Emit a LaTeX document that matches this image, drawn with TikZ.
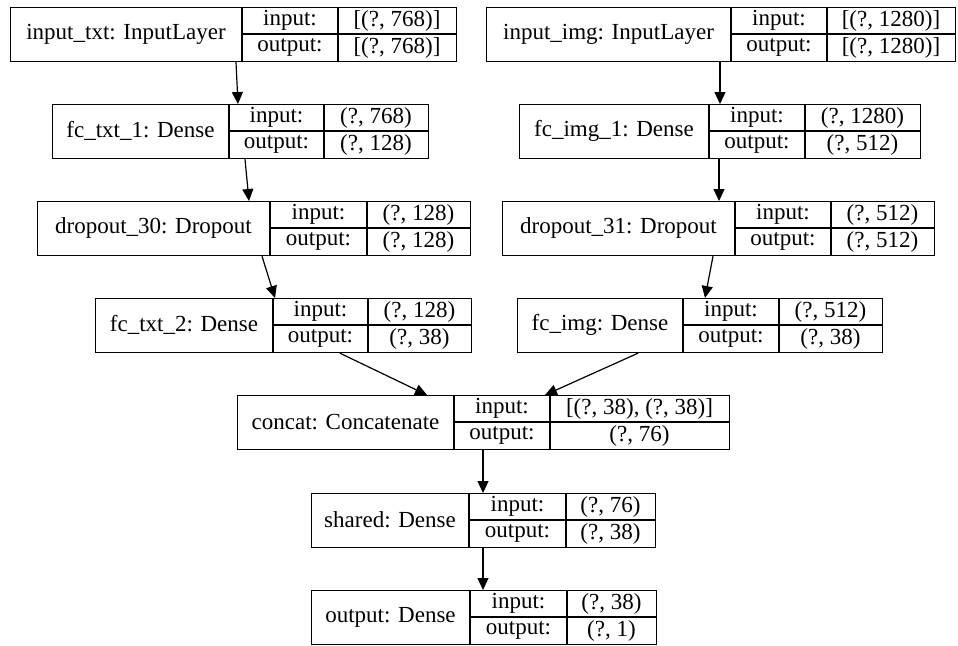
\documentclass[tikz,border=0pt]{standalone}
\usepackage{fontspec}
\setmainfont{Liberation Serif}
\usetikzlibrary{arrows.meta}
\tikzset{
  box/.style={draw, line width=1.2pt, inner sep=0pt, anchor=north west},
  sep/.style={line width=1.2pt},
  lbl/.style={font=\fontsize{23}{26}\selectfont, inner sep=0pt},
  arr/.style={line width=1.2pt, -{Triangle[length=12pt,width=11pt]}},
}
% name, x1, y1, x2, d1, d2, label, in, out
\newcommand\layerbox[9]{%
  \node[box, minimum width={(#4-#2)*1pt}, minimum height=54pt] (#1) at (#2,#3) {};
  \draw[sep] ({#5},{#3}) -- ({#5},{#3+54});
  \draw[sep] ({#6},{#3}) -- ({#6},{#3+54});
  \draw[sep] ({#5},{#3+27}) -- ({#4},{#3+27});
  \node[lbl] at ({(#2+#5)/2},{#3+27}) {#7};
  \node[lbl] at ({(#5+#6)/2},{#3+13.5}) {input:};
  \node[lbl] at ({(#5+#6)/2},{#3+40.5}) {output:};
  \node[lbl] at ({(#6+#4)/2},{#3+13.5}) {#8};
  \node[lbl] at ({(#6+#4)/2},{#3+40.5}) {#9};
}
\begin{document}
\begin{tikzpicture}[x=1pt, y=-1pt]
\useasboundingbox (0,0) rectangle (958,645);
\layerbox{t0}{10}{7}{456}{242}{338}{input\_txt: InputLayer}{[(?, 768)]}{[(?, 768)]}
\layerbox{i0}{486}{7}{955}{731}{827}{input\_img: InputLayer}{[(?, 1280)]}{[(?, 1280)]}
\layerbox{t1}{52}{104}{428}{229}{324}{fc\_txt\_1: Dense}{(?, 768)}{(?, 128)}
\layerbox{i1}{519}{104}{920}{709}{805}{fc\_img\_1: Dense}{(?, 1280)}{(?, 512)}
\layerbox{t2}{37}{201}{470}{270}{367}{dropout\_30: Dropout}{(?, 128)}{(?, 128)}
\layerbox{i2}{502}{201}{934}{735}{831}{dropout\_31: Dropout}{(?, 512)}{(?, 512)}
\layerbox{t3}{95}{298}{471}{273}{368}{fc\_txt\_2: Dense}{(?, 128)}{(?, 38)}
\layerbox{i3}{517}{298}{882}{683}{779}{fc\_img: Dense}{(?, 512)}{(?, 38)}
\layerbox{cc}{237}{395}{729}{454}{550}{concat: Concatenate}{[(?, 38), (?, 38)]}{(?, 76)}
\layerbox{sh}{311}{493}{655}{469}{566}{shared: Dense}{(?, 76)}{(?, 38)}
\layerbox{out}{311}{590}{656}{470}{567}{output: Dense}{(?, 38)}{(?, 1)}

\draw[arr] ([xshift=226pt]t0.south west) -- ([xshift=186pt]t1.north west);
\draw[arr] ([xshift=193pt]t1.south west) -- ([xshift=212pt]t2.north west);
\draw[arr] ([xshift=225pt]t2.south west) -- ([xshift=180pt]t3.north west);
\draw[arr] ([xshift=234pt]i0.south west) -- ([xshift=201pt]i1.north west);
\draw[arr] ([xshift=200pt]i1.south west) -- ([xshift=217pt]i2.north west);
\draw[arr] ([xshift=211pt]i2.south west) -- ([xshift=188pt]i3.north west);
\draw[arr] ([xshift=245pt]t3.south west) -- ([xshift=190pt]cc.north west);
\draw[arr] ([xshift=121pt]i3.south west) -- ([xshift=308pt]cc.north west);
\draw[arr] ([xshift=246pt]cc.south west) -- ([xshift=172pt]sh.north west);
\draw[arr] ([xshift=172pt]sh.south west) -- ([xshift=172pt]out.north west);
\end{tikzpicture}
\end{document}
